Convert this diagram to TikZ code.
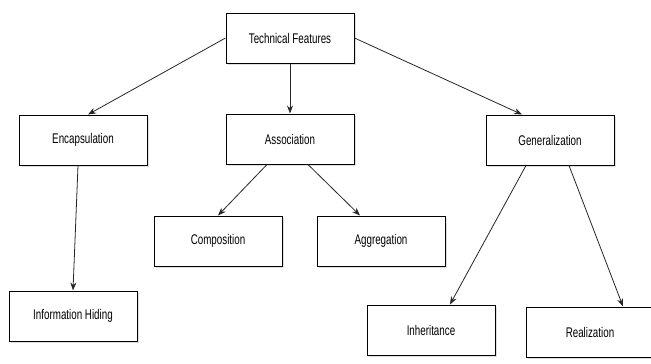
\documentclass[tikz,border=0pt]{standalone}
\usepackage{fontspec}
\setmainfont{Liberation Sans}[FakeStretch=0.7]
\usetikzlibrary{arrows.meta,shadows}

\tikzset{
    box/.style={draw, line width=1pt, fill=white, minimum width=128pt, minimum height=50pt,
        font=\fontsize{14}{16}\selectfont,
        drop shadow={opacity=0.25, shadow xshift=2pt, shadow yshift=-2pt}},
    link/.style={-{Stealth[length=8pt,width=6pt]}, line width=0.8pt, black!85}
}

\begin{document}
\begin{tikzpicture}[x=1pt,y=-1pt]
        \useasboundingbox (0,0) rectangle (651,364);
        \node[box] (tech) at (290,38) {Technical Features};
        \node[box] (encap) at (83,140) {Encapsulation};
        \node[box] (assoc) at (290,139) {Association};
        \node[box] (gener) at (550,140) {Generalization};
        \node[box] (info) at (73,316) {Information Hiding};
        \node[box] (compo) at (218,241) {Composition};
        \node[box] (aggre) at (381,241) {Aggregation};
        \node[box] (inher) at (431,330) {Inheritance};
        \node[box] (reali) at (590,332) {Realization};

        \draw[link] (tech.west) -- ([xshift=5pt]encap.north);
        \draw[link] (tech.south) -- (assoc.north);
        \draw[link] (tech.east) -- ([xshift=-28pt]gener.north);
        \draw[link] ([xshift=-5pt]encap.south) -- (info.north);
        \draw[link] ([xshift=-23pt]assoc.south) -- (compo.north);
        \draw[link] ([xshift=18pt]assoc.south) -- ([xshift=-21pt]aggre.north);
        \draw[link] ([xshift=-24pt]gener.south) -- ([xshift=19pt]inher.north);
        \draw[link] ([xshift=19pt]gener.south) -- ([xshift=33pt]reali.north);
    \end{tikzpicture}
\end{document}
